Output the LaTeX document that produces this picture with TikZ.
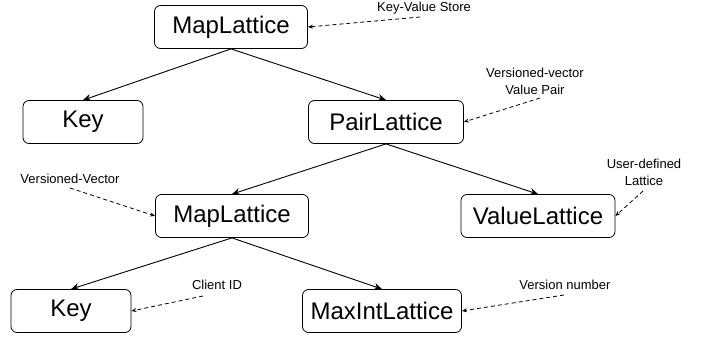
\documentclass[tikz,border=0pt]{standalone}
\usepackage{fontspec}
\setmainfont{Liberation Sans}
\usetikzlibrary{arrows.meta}
\tikzset{
  box/.style={draw, rounded corners=6pt, line width=0.8pt, minimum height=43pt, inner sep=0pt,
    font=\fontsize{24}{28}\selectfont},
  ann/.style={inner sep=0pt, align=center, font=\fontsize{13}{17}\selectfont},
  edge/.style={line width=0.9pt, -{Stealth[length=8pt,width=7pt]}},
  note/.style={line width=0.8pt, dash pattern=on 4pt off 3pt, -{Stealth[length=5pt,width=4pt]}}
}
\begin{document}
\begin{tikzpicture}[x=1pt,y=-1pt]
\useasboundingbox (0,0) rectangle (709,339);
% boxes
\node[box, minimum width=153pt] (m1) at (231,27) {MapLattice};
\node[box, minimum width=120pt] (k1) at (83,122) {Key};
\node[box, minimum width=155pt] (p) at (386,122) {PairLattice};
\node[box, minimum width=153pt] (m2) at (232,216) {MapLattice};
\node[box, minimum width=154pt] (v) at (538,216) {ValueLattice};
\node[box, minimum width=120pt] (k2) at (71,311) {Key};
\node[box, minimum width=159pt] (mi) at (382,311) {MaxIntLattice};
% tree edges
\draw[edge] (m1.south) -- (k1.north);
\draw[edge] (m1.south) -- (p.north);
\draw[edge] (p.south) -- (m2.north);
\draw[edge] (p.south) -- (v.north);
\draw[edge] (m2.south) -- (k2.north);
\draw[edge] (m2.south) -- (mi.north);
% annotations
\node[ann] (a1) at (424,8) {Key-Value Store};
\node[ann] (a2) at (535,81) {Versioned-vector\\Value Pair};
\node[ann] (a3) at (70,179) {Versioned-Vector};
\node[ann] (a4) at (644,172) {User-defined\\Lattice};
\node[ann] (a5) at (217,285) {Client ID};
\node[ann] (a6) at (565,285) {Version number};
\coordinate (s1) at (420,17);
\coordinate (s2) at (540,98);
\coordinate (s3) at (70,188);
\coordinate (s4) at (643,191);
\coordinate (s5) at (203,296);
\coordinate (s6) at (564,295);
\draw[note] (s1) -- (m1.east);
\draw[note] (s2) -- (p.east);
\draw[note] (s3) -- (m2.west);
\draw[note] (s4) -- (v.east);
\draw[note] (s5) -- (k2.east);
\draw[note] (s6) -- (mi.east);
\end{tikzpicture}
\end{document}
